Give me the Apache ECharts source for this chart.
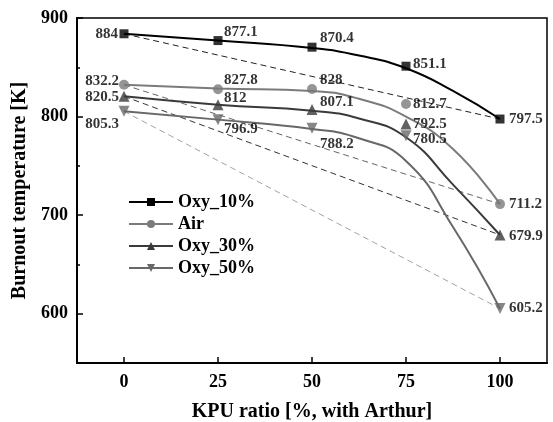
<!DOCTYPE html>
<html>
<head>
<meta charset="utf-8">
<script src="https://cdn.jsdelivr.net/npm/echarts@6/dist/echarts.min.js"></script>
<style>
  html, body { margin: 0; padding: 0; background: #fff; }
  #chart { width: 553px; height: 422px; }
</style>
</head>
<body>
<div id="chart"></div>
<script>
// KPU ratio (x) and burnout temperature (K) per case
var kpuRatio = [0, 25, 50, 75, 100];
var oxy10 = [884, 877.1, 870.4, 851.1, 797.5];
var air = [832.2, 827.8, 828, 812.7, 711.2];
var oxy30 = [820.5, 812, 807.1, 792.5, 679.9];
var oxy50 = [805.3, 796.9, 788.2, 780.5, 605.2];

// fitted curves as drawn in the figure (they do not pass every point)
var curveX = [0, 25, 50, 62.5, 75, 87.5, 100];
var oxy10Curve = [884, 877.1, 869.5, 862, 849, 826, 797.5];
var airCurve = [832.2, 828.5, 826, 818, 800, 767, 711.2];
var oxy30Curve = [820.5, 812, 806, 798, 779, 731, 679.9];
var oxy50Curve = [805.3, 796.9, 787.5, 778, 755, 688, 605.2];

var xTicks = [0, 25, 50, 75, 100];
var yTicks = [600, 700, 800, 900];
var yMinorTicks = [650, 750, 850];

var FONT = "'Liberation Serif', 'Times New Roman', serif";

// label placement per point: [align, dx, dy] from marker centre
var labelPlace = {
  "Oxy_10%": [["right", -6, 0], ["left", 6, -8], ["left", 8, -9], ["left", 7, -2], ["left", 9, 0]],
  "Air": [["right", -5, -4], ["left", 6, -9], ["left", 8, -9], ["left", 7, 0], ["left", 9, 0]],
  "Oxy_30%": [["right", -5, 1], ["left", 6, -7], ["left", 8, -7], ["left", 7, 0], ["left", 9, 1]],
  "Oxy_50%": [["right", -5, 13], ["left", 6, 9], ["left", 8, 16], ["left", 7, 3], ["left", 9, 0]]
};

var cases = [
  { name: "Oxy_10%", vals: oxy10, curve: oxy10Curve, color: "#000000", symbol: "rect", size: 9, dash: "#222222", dashW: 1 },
  { name: "Air", vals: air, curve: airCurve, color: "#7b7b7b", symbol: "circle", size: 10, dash: "#666666", dashW: 1 },
  { name: "Oxy_30%", vals: oxy30, curve: oxy30Curve, color: "#3a3a3a", symbol: "triangle", size: 11, dash: "#333333", dashW: 1 },
  { name: "Oxy_50%", vals: oxy50, curve: oxy50Curve, color: "#686868", symbol: "path://M0,0L10,0L5,9Z", size: 11, dash: "#8a8a8a", dashW: 0.8 }
];

function pairs(xs, ys) {
  var out = [];
  for (var i = 0; i < xs.length; i++) out.push([xs[i], ys[i]]);
  return out;
}

var series = [];
// dashed straight reference lines (first point to last point)
cases.forEach(function (c) {
  series.push({
    type: "line",
    data: [[kpuRatio[0], c.vals[0]], [kpuRatio[kpuRatio.length - 1], c.vals[c.vals.length - 1]]],
    symbol: "none",
    silent: true,
    lineStyle: { color: c.dash, width: c.dashW, type: [6, 4] },
    z: 1
  });
});
// smooth curves (first, so legend picks their icon)
cases.forEach(function (c) {
  series.push({
    name: c.name,
    type: "line",
    data: pairs(curveX, c.curve),
    smooth: 0.5,
    showSymbol: false,
    symbol: c.symbol,
    symbolSize: c.size,
    lineStyle: { color: c.color, width: 2 },
    itemStyle: { color: c.color },
    z: 2
  });
});
// markers with value labels
cases.forEach(function (c) {
  var pts = pairs(kpuRatio, c.vals).map(function (p, i) {
    var lp = labelPlace[c.name][i];
    return {
      value: p,
      label: { align: lp[0], offset: [lp[1], lp[2]] }
    };
  });
  series.push({
    name: c.name,
    type: "scatter",
    data: pts,
    symbol: c.symbol,
    symbolSize: c.size,
    itemStyle: { color: c.color },
    label: {
      show: true,
      position: "inside",
      verticalAlign: "middle",
      color: "#000",
      fontFamily: FONT,
      fontWeight: "bold",
      fontSize: 15,
      formatter: function (p) { return String(p.value[1]); }
    },
    z: 3
  });
});

var myChart = echarts.init(document.getElementById("chart"));
myChart.setOption({
  animation: false,
  backgroundColor: "#fff",
  grid: {
    left: 77, top: 18, right: 6, bottom: 59,
    outerBoundsMode: "none",
    show: true, borderColor: "#000", borderWidth: 1.5
  },
  legend: {
    orient: "vertical",
    left: 123,
    top: 188,
    itemWidth: 44,
    itemHeight: 10,
    itemGap: 4,
    data: cases.map(function (c) { return c.name; }),
    textStyle: { fontFamily: FONT, fontWeight: "bold", fontSize: 18, color: "#000", lineHeight: 18 }
  },
  xAxis: {
    type: "value",
    min: -12.5,
    max: 112.5,
    name: "KPU ratio [%, with Arthur]",
    nameLocation: "middle",
    nameGap: 39,
    nameTextStyle: { fontFamily: FONT, fontWeight: "bold", fontSize: 20, color: "#000" },
    axisLine: { onZero: false, lineStyle: { color: "#000", width: 2 } },
    axisTick: { inside: true, length: 6, lineStyle: { color: "#000", width: 1.5 }, customValues: xTicks },
    axisLabel: { customValues: xTicks, margin: 10, fontFamily: FONT, fontWeight: "bold", fontSize: 18, color: "#000" },
    splitLine: { show: false }
  },
  yAxis: [{
    type: "value",
    min: 550,
    max: 900,
    name: "Burnout temperature [K]",
    nameLocation: "middle",
    nameGap: 42,
    nameTextStyle: { fontFamily: FONT, fontWeight: "bold", fontSize: 20, color: "#000" },
    axisLine: { onZero: false, lineStyle: { color: "#000", width: 2 } },
    axisTick: { inside: true, length: 6, lineStyle: { color: "#000", width: 1.5 }, customValues: yTicks },
    axisLabel: { customValues: yTicks, margin: 9, fontFamily: FONT, fontWeight: "bold", fontSize: 18, color: "#000" },
    splitLine: { show: false }
  }, {
    type: "value",
    position: "left",
    min: 550,
    max: 900,
    axisLine: { show: false, onZero: false },
    axisTick: { inside: true, length: 3, lineStyle: { color: "#000", width: 1.5 }, customValues: yMinorTicks },
    axisLabel: { show: false },
    splitLine: { show: false }
  }],
  series: series
});
</script>
</body>
</html>
